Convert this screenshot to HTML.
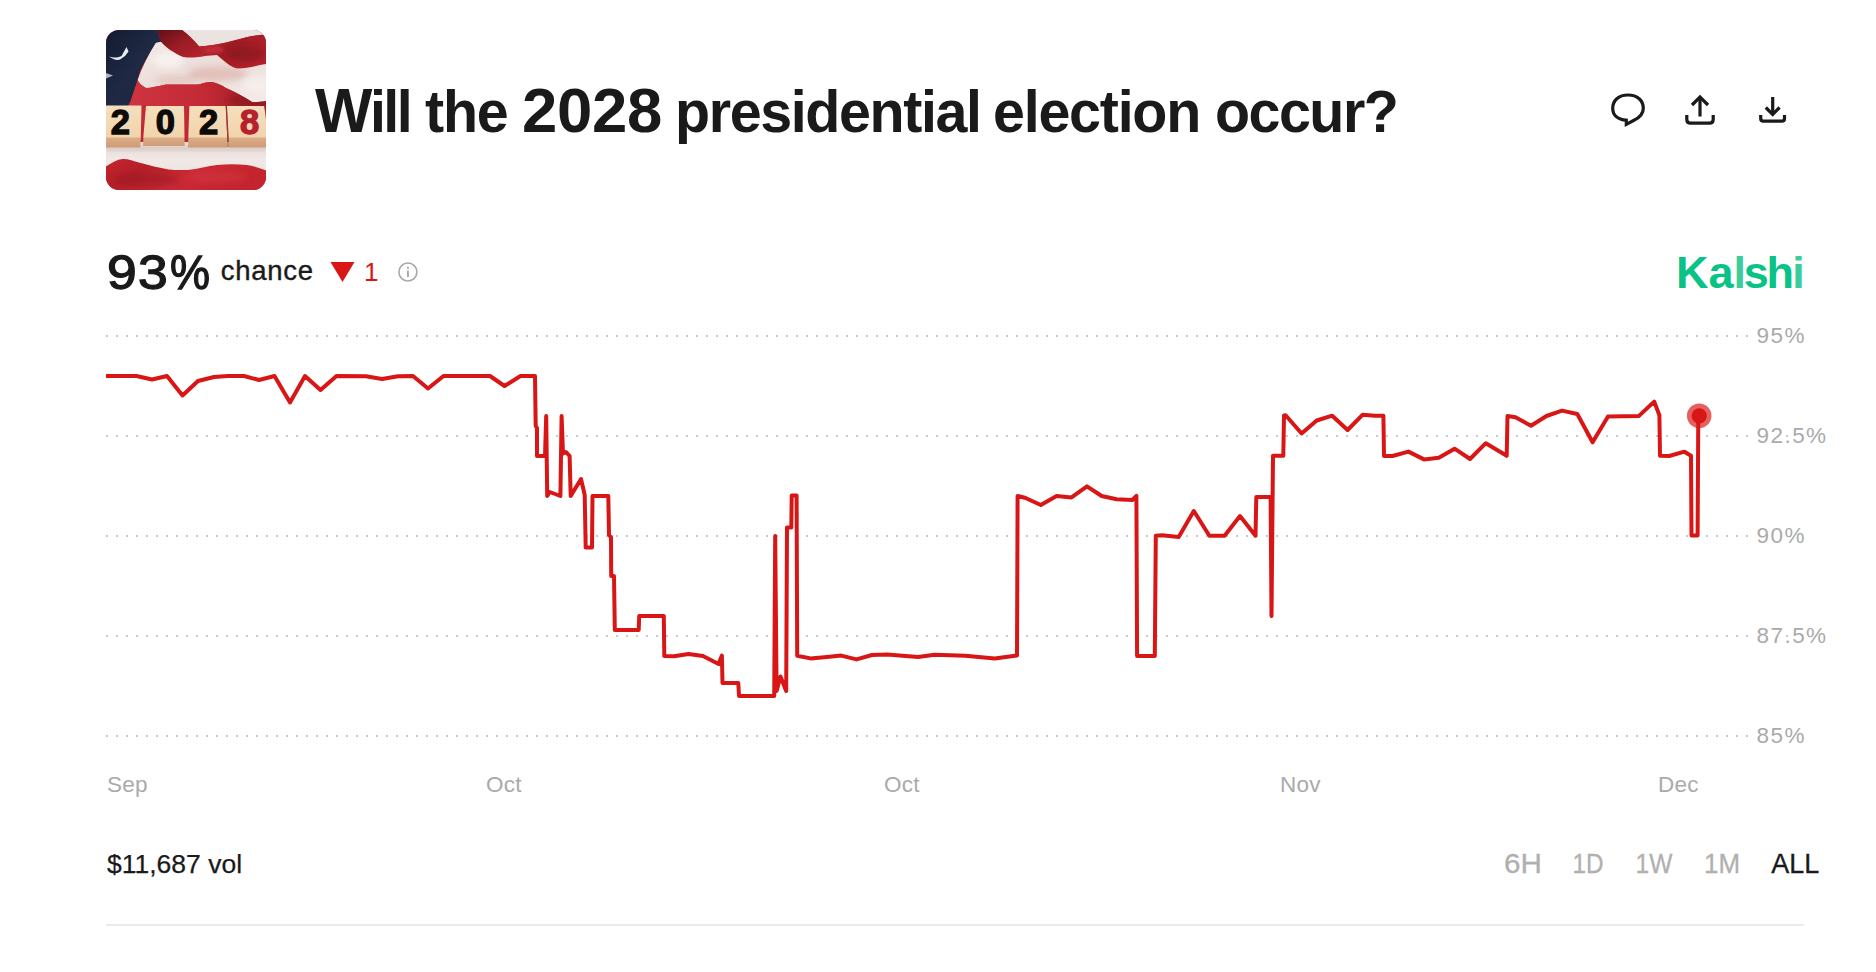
<!DOCTYPE html>
<html lang="en">
<head>
<meta charset="utf-8">
<title>Will the 2028 presidential election occur?</title>
<style>
html,body{margin:0;padding:0;background:#fff;}
body{width:1876px;height:972px;position:relative;overflow:hidden;font-family:"Liberation Sans",Arial,Helvetica,sans-serif;color:#1a1a1a;}
.abs{position:absolute;white-space:nowrap;line-height:1;}
#thumb{position:absolute;left:106px;top:30px;width:160px;height:160px;border-radius:13px;overflow:hidden;}
#title{left:0;top:82px;font-size:60px;font-weight:700;color:#1a1a1a;}
#title span.w{position:absolute;top:0;display:inline-block;transform-origin:0 0;transform:scaleX(0.957);letter-spacing:-1.3px;white-space:nowrap;line-height:1;}
#title span.big{font-size:63.5px;line-height:60px;}
#w1::first-letter{font-size:63.5px;}
#pct{left:0;top:247.5px;font-size:49px;font-weight:400;color:#1a1a1a;-webkit-text-stroke:1.3px #1a1a1a;}
#pct span{position:absolute;top:0;display:inline-block;transform-origin:0 0;line-height:1;}
#chance{left:220.7px;top:257.3px;font-size:27.5px;color:#1a1a1a;-webkit-text-stroke:0.4px #1a1a1a;letter-spacing:0.75px;}
#delta{left:364px;top:259px;font-size:26px;color:#d91616;}
#kalshi{left:1676px;top:250px;font-size:45px;font-weight:700;color:#09c285;letter-spacing:-1.3px;}
#kalshi span.lt{color:#3dcd9c;}
.ylab{font-size:22.5px;color:#aaaaaa;letter-spacing:1.45px;left:1756.5px;}
.xlab{font-size:22.5px;color:#aaaaaa;top:773.8px;letter-spacing:0.3px;}
#vol{left:107px;top:850.5px;font-size:26.5px;color:#1a1a1a;-webkit-text-stroke:0.25px #1a1a1a;}
.rng{font-size:27px;color:#b0b0b0;top:851px;-webkit-text-stroke:0.3px currentColor;transform:translateX(-50%);}
#divider{position:absolute;left:106px;top:924px;width:1698px;height:2px;background:#ebebeb;}
svg{position:absolute;left:0;top:0;}
</style>
</head>
<body>

<div id="thumb">
<svg width="160" height="160" viewBox="0 0 160 160">
  <defs>
    <filter id="bl3" x="-30%" y="-30%" width="160%" height="160%"><feGaussianBlur stdDeviation="3"/></filter>
    <filter id="bl2" x="-30%" y="-30%" width="160%" height="160%"><feGaussianBlur stdDeviation="1.8"/></filter>
    <clipPath id="cpW"><path d="M50 12.5L55 11.7C57.5 14.5 60.5 17.5 64 20C68 22.5 72 25 77 27C84 28 92 27.5 99 26L111 25C117 30 124 37 131 38.5C140 39 150 35.5 160 34V71C155 72 150 72.5 146 72C138 67 130 62 120 58C114 54 108 51.5 103.5 52C98 52.5 95 54 92 54.5H60C52 56 45 58 40 58C36 56 33 53 31.5 50C36 38 42 25 49 13.5Z"/></clipPath>
    <clipPath id="cpR3"><path d="M31.5 50C33 53 36 56 40 58C45 58 52 56 60 54.5H92C95 54 98 52.5 103.5 52C108 51.5 114 54 120 58C130 62 138 67 146 72C150 72.5 155 72 160 71V80H20L24.5 71Z"/></clipPath>
    <clipPath id="cpR2"><path d="M92.5 16.5C104 15.5 116 14 128 10.5C140 7 150 5 160 4.5V34C150 35.5 140 39 131 38.5C124 37 117 30 111 25L99 25.5C97 22 95 19 92.5 16.5Z"/></clipPath>
    <linearGradient id="gRed1" x1="0" y1="0" x2="1" y2="1">
      <stop offset="0" stop-color="#5e1017"/><stop offset="0.5" stop-color="#9c1c25"/><stop offset="1" stop-color="#b8242e"/>
    </linearGradient>
    <linearGradient id="gRed2" x1="0" y1="0" x2="1" y2="0.6">
      <stop offset="0" stop-color="#bf2a33"/><stop offset="0.5" stop-color="#a01c26"/><stop offset="1" stop-color="#b5222c"/>
    </linearGradient>
    <linearGradient id="gRed3" x1="0" y1="0" x2="1" y2="0">
      <stop offset="0" stop-color="#cf3540"/><stop offset="0.55" stop-color="#c42a35"/><stop offset="1" stop-color="#9a1b25"/>
    </linearGradient>
    <linearGradient id="gRedB" x1="0" y1="0" x2="1" y2="0.3">
      <stop offset="0" stop-color="#c4242e"/><stop offset="0.3" stop-color="#b51f29"/><stop offset="0.6" stop-color="#cb2a35"/><stop offset="1" stop-color="#c4242e"/>
    </linearGradient>
    <linearGradient id="gWhite1" x1="0" y1="0" x2="1" y2="1">
      <stop offset="0" stop-color="#f1e9e6"/><stop offset="0.5" stop-color="#ecdcd8"/><stop offset="1" stop-color="#f3ebe8"/>
    </linearGradient>
    <linearGradient id="gWhite2" x1="0" y1="0" x2="0" y2="1">
      <stop offset="0" stop-color="#e6dcd8"/><stop offset="0.6" stop-color="#f1e8e5"/><stop offset="1" stop-color="#efe3e0"/>
    </linearGradient>
    <linearGradient id="gNavy" x1="0" y1="0" x2="1" y2="1">
      <stop offset="0" stop-color="#131b30"/><stop offset="0.5" stop-color="#1f2944"/><stop offset="1" stop-color="#1b2540"/>
    </linearGradient>
    <linearGradient id="gWood" x1="0" y1="0" x2="0" y2="1">
      <stop offset="0" stop-color="#f6dfbd"/><stop offset="1" stop-color="#f0d4ac"/>
    </linearGradient>
    <linearGradient id="gSide" x1="0" y1="0" x2="0" y2="1">
      <stop offset="0" stop-color="#dcae88"/><stop offset="1" stop-color="#cf9c78"/>
    </linearGradient>
  </defs>
  <!-- base red -->
  <rect width="160" height="160" fill="#c02731"/>
  <!-- top white stripe -->
  <path d="M76 0H160V4.5C150 5 140 7 128 10.5C116 14 104 15.5 92.5 16.5C88 10 82 4 76 0Z" fill="#ebe3df"/>
  <!-- top red fold (dark) -->
  <path d="M51 0H76C82 4.5 88 10.5 93 16C95.5 19 97.5 22.5 99 26C92 27.5 84 28 77 27C72 25 68 22.5 64 20C60.5 17.5 57.5 14.5 55 11.7Z" fill="url(#gRed1)"/>
  <!-- red stripe 2 -->
  <path d="M92.5 16.5C104 15.5 116 14 128 10.5C140 7 150 5 160 4.5V34C150 35.5 140 39 131 38.5C124 37 117 30 111 25L99 25.5C97 22 95 19 92.5 16.5Z" fill="url(#gRed2)"/>
  <!-- big white stripe -->
  <path d="M50 12.5L55 11.7C57.5 14.5 60.5 17.5 64 20C68 22.5 72 25 77 27C84 28 92 27.5 99 26L111 25C117 30 124 37 131 38.5C140 39 150 35.5 160 34V71C155 72 150 72.5 146 72C138 67 130 62 120 58C114 54 108 51.5 103.5 52C98 52.5 95 54 92 54.5H60C52 56 45 58 40 58C36 56 33 53 31.5 50C36 38 42 25 49 13.5Z" fill="url(#gWhite1)"/>
  <g clip-path="url(#cpW)">
    <ellipse cx="112" cy="44" rx="30" ry="7" fill="#d8a89f" opacity="0.55" filter="url(#bl3)"/>
    <ellipse cx="70" cy="50" rx="22" ry="4" fill="#d9b5ad" opacity="0.5" filter="url(#bl3)"/>
    <ellipse cx="62" cy="30" rx="16" ry="8" fill="#faf4f2" opacity="0.8" filter="url(#bl3)"/>
    <ellipse cx="150" cy="55" rx="14" ry="9" fill="#f6f0ee" opacity="0.8" filter="url(#bl3)"/>
  </g>
  <g clip-path="url(#cpR2)">
    <ellipse cx="140" cy="24" rx="20" ry="8" fill="#7e141d" opacity="0.55" filter="url(#bl3)"/>
    <ellipse cx="108" cy="20" rx="10" ry="4" fill="#cf343d" opacity="0.6" filter="url(#bl2)"/>
  </g>
  <!-- red stripe 3 (above blocks) -->
  <path d="M31.5 50C33 53 36 56 40 58C45 58 52 56 60 54.5H92C95 54 98 52.5 103.5 52C108 51.5 114 54 120 58C130 62 138 67 146 72C150 72.5 155 72 160 71V80H20L24.5 71Z" fill="url(#gRed3)"/>
  <!-- navy canton -->
  <path d="M0 0H51L55 11.7L50 12.5C44 22 38.5 32 34 41L31.5 50L24.5 71L21 78H0Z" fill="url(#gNavy)"/>
  <path d="M3 26.5C7 29.5 11 30.5 14 29.5L19 26L22.5 21.5L20.5 17L15.5 26C11 28 7 28 3 26.5Z" fill="#e9ecef"/>
  <path d="M0 43L7 45.5L0 48.5Z" fill="#aeb3bd"/>
  <!-- white band below blocks -->
  <path d="M0 112H160V142H0Z" fill="url(#gWhite2)"/>
  <!-- bottom red wave -->
  <path d="M0 136.5C6 132.5 11 129.5 16.5 129C22 128.8 28 131 33 132.6C43 135.5 53 138 62.5 139.4C69 140.2 76 140.2 82 139.9C92 139 102 136 111 135C121 134 131 134 140.5 135C148 136 155 138.5 160 140.5V160H0Z" fill="url(#gRedB)"/>
  <ellipse cx="40" cy="150" rx="34" ry="7" fill="#8d1720" opacity="0.4" filter="url(#bl3)"/>
  <ellipse cx="112" cy="147" rx="30" ry="6" fill="#d63a45" opacity="0.45" filter="url(#bl3)"/>
  <g clip-path="url(#cpR3)"><ellipse cx="140" cy="70" rx="18" ry="6" fill="#7e141d" opacity="0.55" filter="url(#bl3)"/></g>
  <rect x="0" y="116" width="160" height="5" fill="#cdbab4" opacity="0.5" filter="url(#bl2)"/>
  <!-- gaps between blocks: red upper part -->
  <rect x="34" y="75" width="7" height="24" fill="#c42a35"/>
  <rect x="78" y="75" width="6" height="24" fill="#c42a35"/>
  <!-- blocks: sides -->
  <path d="M0 107H34.8L34.4 117.5H0Z" fill="url(#gSide)"/>
  <path d="M37.4 107H78.4L78.7 116H37Z" fill="url(#gSide)"/>
  <path d="M82.4 107H121.2L121.6 117.5H82Z" fill="url(#gSide)"/>
  <path d="M122.6 107H160V117.5H123Z" fill="url(#gSide)"/>
  <!-- blocks: faces -->
  <path d="M0 75.4H35.5L34.8 107.6H0Z" fill="url(#gWood)"/>
  <path d="M40 75.9H78L78.5 107.6H37.3Z" fill="url(#gWood)"/>
  <path d="M83.4 75.9H119.6L121.3 107.6H82.3Z" fill="url(#gWood)"/>
  <path d="M121 75.9H158.2L160 90V107.6H122.7Z" fill="url(#gWood)"/>
  <path d="M120.3 76L122.2 117" stroke="#7a4a3a" stroke-width="0.9" fill="none"/>
  <g font-family="'Liberation Sans',Arial,sans-serif" font-weight="700" font-size="34.5" text-anchor="middle" stroke-width="1.3">
    <text x="14.3" y="103.7" fill="#0d0a0a" stroke="#0d0a0a">2</text>
    <text x="59.3" y="103.7" fill="#0d0a0a" stroke="#0d0a0a">0</text>
    <text x="102.5" y="103.7" fill="#0d0a0a" stroke="#0d0a0a">2</text>
    <text x="143.6" y="103.7" fill="#b5222d" stroke="#b5222d">8</text>
  </g>
</svg>
</div>

<div id="title" class="abs"><span class="w" id="w1" style="left:314.5px;top:-2.9px;letter-spacing:-2.6px">Will</span> <span class="w" id="w2" style="left:424.7px">the</span> <span class="w" id="w3" style="left:522px;top:-2.5px;letter-spacing:-0.28px;transform:none"><span class="big">2028</span></span> <span class="w" id="w4" style="left:675.4px;letter-spacing:-1.45px">presidential</span> <span class="w" id="w5" style="left:993px">election</span> <span class="w" id="w6" style="left:1214.6px;letter-spacing:-1.6px">occur?</span></div>

<div id="pct" class="abs"><span style="left:106.8px;letter-spacing:1.2px;transform:scaleX(1.092)">93</span><span style="left:169.5px;transform:scaleX(0.918)">%</span></div>
<div id="chance" class="abs">chance</div>
<div id="delta" class="abs">1</div>
<div id="kalshi" class="abs">K<span style="margin-left:1.2px">a</span><span class="lt" style="margin-left:1.4px">l</span><span style="margin-left:-1.1px">s</span><span style="margin-left:-0.9px">h</span><span class="lt" style="margin-left:-0.4px">i</span></div>

<svg id="chart" width="1876" height="972" viewBox="0 0 1876 972">
  <g stroke="#c9c9c9" stroke-width="2" stroke-dasharray="2 8" fill="none">
    <path d="M106 336H1749"/>
    <path d="M106 436H1749"/>
    <path d="M106 536H1749"/>
    <path d="M106 636H1749"/>
    <path d="M106 736H1749"/>
  </g>
  <path id="line" d="M106 376 L136.5 376 L152 379.5 L167 376 L182.5 395.5 L198 381 L214 377 L228 376 L244 376 L259 380 L274.5 376 L290 402.5 L305 376 L320.5 390 L336.5 376 L366 376.3 L382 379 L398 376.3 L413 376 L428 388.5 L443.5 376 L490 376 L504.5 386 L520.5 376 L535 376 L535.7 426 L537 428 L537 456 L545 456 L546.2 416 L547.2 496 L549.7 492 L560.4 496 L561.6 416 L563 453.5 L566 452 L569.6 456 L570.7 496 L581 479 L584.7 495 L585.7 547.5 L592 547.5 L592.5 496 L608.3 496 L609 535 L611 537 L611.2 576 L614 576 L614.8 630 L638.7 630 L639.2 616 L663.8 616 L664.3 656 L674 656.3 L688.5 654 L703 656 L718.6 664 L721.9 655.5 L722.5 683 L738.3 683 L739 696 L774.2 696 L775.2 536 L776.6 691 L780.5 676.5 L786.2 691 L787 527.5 L791.3 527.5 L791.7 495.5 L796.6 495.5 L797.2 655.8 L810.5 658.4 L827 657 L841.2 655.6 L856.5 659.4 L872 655 L887.2 654.5 L918 657 L934.6 654.8 L965.3 655.8 L994.7 658.4 L1017 655.6 L1017.6 496 L1025 497.8 L1040.8 505 L1056.6 496 L1071.5 497.4 L1087 486.3 L1101.7 496 L1116.6 499.3 L1132.4 500 L1136.4 495.8 L1137.1 656 L1154.8 656 L1155.8 535.7 L1162 535.3 L1178.7 537 L1193.8 511 L1209.4 535.7 L1224.6 535.7 L1240 516 L1255.5 535.7 L1256.3 497 L1270.6 497 L1271.5 616 L1273 455.7 L1283.3 455.7 L1284 415.5 L1285.6 415.2 L1301.6 433.5 L1316.7 420.5 L1332.2 415.7 L1347.6 430 L1362.5 414.8 L1375 415.7 L1383.4 415.7 L1384 456 L1392.6 456 L1408.4 451.6 L1424 459.4 L1438.8 457.7 L1454.6 448.7 L1470 459 L1485.8 443.2 L1506.7 455.8 L1507.5 416 L1515.5 417.3 L1531 425.7 L1546.5 416 L1562 410.6 L1577.3 414 L1592.6 442.3 L1608 416.4 L1638.7 416.1 L1654.2 401.6 L1659.4 415.2 L1660 455.8 L1669.3 456 L1684.4 451.7 L1691 455.8 L1691.5 535.6 L1697.6 535.6 L1698.3 415.5" fill="none" stroke="#d91616" stroke-width="4" stroke-linejoin="round" stroke-linecap="butt"/>
  <circle cx="1699.2" cy="415.8" r="12.3" fill="#d91616" fill-opacity="0.68"/>
  <circle cx="1699.2" cy="415.8" r="7.6" fill="#d91616"/>
  <!-- grid dot visible inside 92.5% / 87.5% labels -->
  <rect x="1786" y="435" width="2" height="2" fill="#c9c9c9"/>
  <rect x="1786" y="635" width="2" height="2" fill="#c9c9c9"/>
  <!-- down triangle -->
  <path d="M330.5 262H354.5L342.5 282Z" fill="#d91616"/>
  <!-- info icon -->
  <circle cx="407.9" cy="272" r="9" fill="none" stroke="#a8a8a8" stroke-width="1.6"/>
  <rect x="407" y="270.5" width="1.9" height="6.5" fill="#a8a8a8"/>
  <rect x="407" y="266.8" width="1.9" height="2" fill="#a8a8a8"/>
  <!-- comment bubble -->
  <path d="M1628 95C1618.5 95 1612.7 100.6 1612.7 108.3C1612.7 115 1617.6 119.6 1626.3 120.2L1626.3 124.3L1634 120.3C1640.5 117.2 1643.3 113.3 1643.3 108.3C1643.3 100.6 1637.5 95 1628 95Z" fill="none" stroke="#1a1a1a" stroke-width="3.2" stroke-linejoin="miter"/>
  <!-- share -->
  <g fill="none" stroke="#1a1a1a" stroke-width="3.2">
    <path d="M1686.8 115V119.5Q1686.8 123.2 1690.5 123.2H1709.5Q1713.2 123.2 1713.2 119.5V115"/>
    <path d="M1700 116.5V97"/>
    <path d="M1692 105L1700 97L1708 105"/>
    <path d="M1760.7 115V118.5Q1760.7 121.2 1763.4 121.2H1781.8Q1784.5 121.2 1784.5 118.5V115"/>
    <path d="M1772.7 97V114"/>
    <path d="M1765.8 107.5L1772.7 114.4L1779.6 107.5"/>
  </g>
</svg>

<div class="abs ylab" style="top:325.0px">95%</div>
<div class="abs ylab" style="top:425.0px">92.5%</div>
<div class="abs ylab" style="top:525.0px">90%</div>
<div class="abs ylab" style="top:625.0px">87.5%</div>
<div class="abs ylab" style="top:725.0px">85%</div>

<div class="abs xlab" style="left:107px">Sep</div>
<div class="abs xlab" style="left:486px">Oct</div>
<div class="abs xlab" style="left:884px">Oct</div>
<div class="abs xlab" style="left:1280px">Nov</div>
<div class="abs xlab" style="left:1658px">Dec</div>

<div id="vol" class="abs">$11,687 vol</div>
<div class="abs rng" style="left:1523px;transform:translateX(-50%) scaleX(1.1)">6H</div>
<div class="abs rng" style="left:1588px;transform:translateX(-50%) scaleX(0.9)">1D</div>
<div class="abs rng" style="left:1654.2px;transform:translateX(-50%) scaleX(0.91)">1W</div>
<div class="abs rng" style="left:1721.7px;transform:translateX(-50%) scaleX(0.96)">1M</div>
<div class="abs rng" style="left:1795.2px;color:#1a1a1a">ALL</div>

<div id="divider"></div>

</body>
</html>
